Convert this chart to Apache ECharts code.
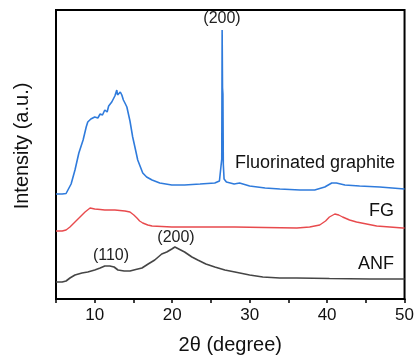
<!DOCTYPE html>
<html>
<head>
<meta charset="utf-8">
<script src="https://cdn.jsdelivr.net/npm/echarts@6/dist/echarts.min.js"></script>
<style>
html,body{margin:0;padding:0;background:#fff;}
#c{width:417px;height:362px;}
</style>
</head>
<body>
<div id="c"></div>
<script>
// 2θ (degree) and intensity (a.u., stacked offsets as in the figure)
const fgraphX = [5.0,5.8,6.3,6.55,6.95,7.45,7.95,8.5,8.9,9.1,9.5,10.0,10.4,10.7,11.0,11.3,11.6,11.8,12.0,12.2,12.4,12.6,12.75,12.85,12.95,13.1,13.3,13.5,13.7,13.9,14.15,14.55,14.9,15.3,15.55,15.95,16.2,16.7,17.4,18.4,19.95,21.6,23.6,25.5,26.1,26.3,26.4,26.45,26.5,26.55,26.6,26.7,27.0,28.0,28.7,30.0,32.0,33.9,36.5,38.4,39.7,40.6,41.2,42.3,44.2,46.8,50.0];
const fgraphY = [105,105,105.5,106,115,129,146,159,172,177,180,182,181,185,184,189,187,193,192,197,199,203,201,209,204,205,207,204,199,196,192,178,162,148,139,131,126,122,119,116,114,114,115,116,118,120,140,269,211,205,135,120,117,115,116,113,111,110,109,109,112,116,116,114,113,112,110];

const fgX = [5.0,5.8,6.3,6.8,7.45,8.1,8.75,9.4,10.0,10.7,11.3,12.6,13.9,14.55,15.05,15.45,15.8,16.2,16.85,17.4,19.95,23.6,28.1,31.9,36.1,37.75,39.05,39.8,40.3,41.0,41.5,42.0,42.9,43.8,45.1,46.4,48.1,49.75,50.0];
const fgY = [68,68,69,72,77,82,87,91,90,89.5,89,89,88,87,84,81,78,76,74,73,72,72,72,71.5,71,72,74,78,82,85,84,82,79,77,75,73,72,71,71];

const anfX = [5.0,5.8,6.3,6.8,7.45,8.35,9.1,10.0,10.7,11.3,11.95,12.5,13.0,13.8,14.55,15.3,16.1,16.9,17.75,18.65,19.3,19.95,20.35,20.85,21.6,22.55,23.3,24.35,25.5,26.8,28.1,30.0,31.7,33.9,36.1,40.3,45.5,50.0];
const anfY = [17,17,18,21,24,26,27,29,31,33,33,32,29,28,28,29.5,31,35,39,45,47,50,52,50,47,42,39,35,32,29,27,24,22,21,21,20.5,20,20];

const xTicks = [10,20,30,40,50];

const zip = (a,b) => a.map((v,i)=>[v,b[i]]);
const chart = echarts.init(document.getElementById('c'));
const F = 'Liberation Sans, Arial, sans-serif';
chart.setOption({
  animation:false,
  grid:{left:56,right:12,top:10,bottom:63,show:true,borderColor:'#000',borderWidth:2,backgroundColor:'transparent'},
  xAxis:{
    type:'value',min:5,max:50,interval:5,
    name:'2θ (degree)',nameLocation:'middle',nameGap:36,
    nameTextStyle:{fontFamily:F,fontSize:20,color:'#111'},
    axisLine:{show:true,onZero:false,lineStyle:{color:'#000',width:2}},
    axisTick:{show:true,length:4,lineStyle:{color:'#000',width:1.5}},
    axisLabel:{fontFamily:F,fontSize:17,color:'#111',margin:8,
      formatter:v=>xTicks.includes(v)?String(v):''},
    splitLine:{show:false}
  },
  yAxis:{
    type:'value',min:0,max:289,
    axisLine:{show:true,lineStyle:{color:'#000',width:2}},
    axisTick:{show:false},axisLabel:{show:false},splitLine:{show:false}
  },
  series:[
    {type:'line',data:zip(fgraphX,fgraphY),showSymbol:false,lineStyle:{color:'#2f7bdc',width:1.6},z:3},
    {type:'line',data:zip(fgX,fgY),showSymbol:false,lineStyle:{color:'#e84a4d',width:1.4},z:2},
    {type:'line',data:zip(anfX,anfY),showSymbol:false,lineStyle:{color:'#454545',width:1.6},z:2}
  ],
  graphic:[
    {type:'text',x:22,y:146,rotation:Math.PI/2,style:{text:'Intensity (a.u.)',font:'20px '+F,fill:'#111',textAlign:'center',textVerticalAlign:'middle'}},
    {type:'text',x:222,y:19,style:{text:'(200)',font:'16px '+F,fill:'#222',textAlign:'center',textVerticalAlign:'middle'}},
    {type:'text',x:395,y:163,style:{text:'Fluorinated graphite',font:'18px '+F,fill:'#111',textAlign:'right',textVerticalAlign:'middle'}},
    {type:'text',x:394,y:211,style:{text:'FG',font:'18px '+F,fill:'#111',textAlign:'right',textVerticalAlign:'middle'}},
    {type:'text',x:394,y:264,style:{text:'ANF',font:'18px '+F,fill:'#111',textAlign:'right',textVerticalAlign:'middle'}},
    {type:'text',x:111,y:256,style:{text:'(110)',font:'16px '+F,fill:'#222',textAlign:'center',textVerticalAlign:'middle'}},
    {type:'text',x:176,y:238,style:{text:'(200)',font:'16px '+F,fill:'#222',textAlign:'center',textVerticalAlign:'middle'}}
  ]
});
</script>
</body>
</html>
